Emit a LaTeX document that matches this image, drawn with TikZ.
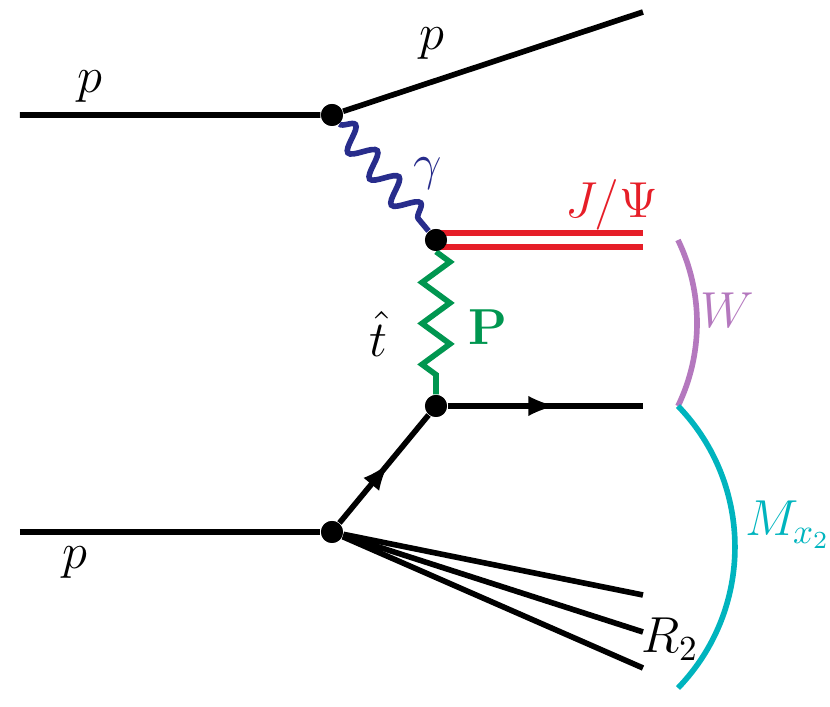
\documentclass[tikz,border=0pt]{standalone}
\usepackage{amsmath,amssymb}
\usepackage{xcolor}
\usetikzlibrary{calc,decorations.pathmorphing,decorations.markings}
\definecolor{phblue}{RGB}{40,45,140}
\definecolor{jpred}{RGB}{230,30,40}
\definecolor{pomgreen}{RGB}{0,150,80}
\definecolor{wpurple}{RGB}{180,120,190}
\definecolor{mcyan}{RGB}{0,180,190}
\tikzset{
  line/.style={line width=1.6pt},
  vtx/.style={circle,fill=black,inner sep=0pt,minimum size=0.22cm},
  midarrow/.style={postaction={decorate},decoration={markings,
    mark=at position 0.55 with {\arrow{latex}}}},
}
\begin{document}
\begin{tikzpicture}[font=\Large]
\useasboundingbox (0,0) rectangle (8.3,7.07);
\node[vtx] (a) at (3.32,5.92) {}; \node[vtx] (b) at (4.36,4.67) {};
\node[vtx] (c) at (4.36,3.01) {}; \node[vtx] (d) at (3.32,1.75) {};
\coordinate (pin1) at (0.2,5.92); \coordinate (pout1) at (6.43,6.95);
\coordinate (pin2) at (0.2,1.75); \coordinate (qout) at (6.43,3.01);
\draw[line] (pin1) -- (a) -- (pout1); \draw[line] (pin2) -- (d);
\draw[line,midarrow] (d) -- (c); \draw[line,midarrow] (c) -- (qout);
\foreach \y/\n in {1.12/r1,0.75/r2,0.39/r3}{
	\coordinate (\n) at (6.43,\y); \draw[line] (d) -- (\n);
	}
\draw[line,jpred] ($(b)+(0.05,0.07)$) -- (6.43,4.74);
\draw[line,jpred] ($(b)+(0.05,-0.07)$) -- (6.43,4.60);
\draw[line,phblue,decorate,decoration={snake,amplitude=0.12cm,segment length=0.34cm}] (a) -- (b);
\draw[line,pomgreen,decorate,decoration={zigzag,amplitude=0.14cm,segment length=0.41cm}] (b) -- (c);
\node[vtx] at (a) {}; \node[vtx] at (b) {}; \node[vtx] at (c) {}; \node[vtx] at (d) {};
% bracket arcs
\draw[line,wpurple] (6.78,4.67) arc[start angle=25.8,end angle=-25.8,radius=1.908];
\draw[line,mcyan] (6.78,3.01) arc[start angle=44,end angle=-44,radius=2.03];
\node at (0.9,6.2){$p$}; \node at (4.32,6.63){$p$};
\node[phblue] at (4.28,5.33){$\gamma$}; \node[jpred] at (6.12,5.02){$J/\Psi$};
\node at (3.78,3.73){$\hat{t}$}; \node[pomgreen] at (4.88,3.8){$\mathbf{P}$};
\node at (0.75,1.44){$p$}; \node at (6.7,0.68){$R_2$};
\node[wpurple] at (7.27,3.97){$W$}; \node[mcyan] at (7.88,1.82){$M_{x_2}$};
\end{tikzpicture}
\end{document}
